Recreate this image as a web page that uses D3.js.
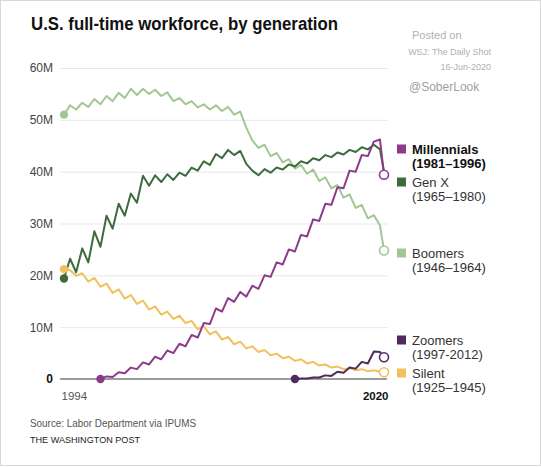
<!DOCTYPE html>
<html><head><meta charset="utf-8">
<script src="https://cdn.jsdelivr.net/npm/d3@7"></script>
<style>
body{margin:0;background:#fff;}
text{font-family:"Liberation Sans",Arial,sans-serif;}
</style>
</head><body>
<svg id="chart" width="541" height="467"></svg>
<script>
// ---- DATA (millions of workers, semi-annual readings) ----
const startYear = 1994;
const endYear = 2020.33;
const boomers = [51.0,52.8, 52.0,53.3, 52.5,54.0, 53.0,54.6, 53.6,55.2, 54.2,56.0, 54.8,56.0, 55.0,55.8, 54.6,55.3, 53.6,54.2, 53.0,53.6, 52.4,53.0, 52.0,52.8, 51.7,52.5, 51.0,51.6, 48.5,46.0, 44.6,45.2, 43.0,43.6, 41.8,42.4, 40.6,41.3, 39.6,40.4, 38.2,38.9, 36.8,37.4, 35.0,35.6, 33.0,33.6, 31.0,31.6, 29.6, 24.8];
const genX = [19.4,23.2, 20.6,25.2, 22.5,28.5, 25.5,31.5, 29.0,33.8, 31.5,35.8, 34.0,39.2, 37.3,39.3, 38.0,39.5, 38.4,39.8, 39.2,40.8, 40.2,42.0, 41.3,43.4, 42.6,44.2, 43.2,44.0, 41.5,40.2, 39.3,40.5, 39.8,40.8, 40.4,41.4, 41.0,42.0, 41.6,42.6, 42.2,43.2, 42.8,43.7, 43.3,44.2, 43.8,44.7, 44.3,45.2, 44.3, 40.0];
const millennialsStart = 1997;
const millennials = [0,0.5, 0.4,1.3, 1.1,2.2, 1.9,3.2, 2.8,4.3, 3.8,5.5, 5.0,6.8, 6.3,8.5, 8.0,10.8, 10.6,13.6, 13.0,15.6, 14.9,16.8, 15.9,18.0, 17.4,20.0, 19.7,22.5, 22.1,25.0, 24.6,27.8, 27.5,30.8, 30.5,33.8, 33.6,37.0, 36.8,40.2, 40.0,43.2, 43.0,45.8, 46.2, 39.4];
const silent = [21.2,21.0, 19.9,20.4, 18.8,19.5, 17.8,18.4, 16.6,17.3, 15.5,16.2, 14.5,15.1, 13.4,14.0, 12.4,13.0, 11.6,12.2, 10.8,11.2, 9.6,10.2, 8.6,9.2, 7.6,8.1, 6.7,7.2, 5.9,6.3, 5.2,5.6, 4.6,4.9, 4.0,4.3, 3.5,3.8, 3.0,3.3, 2.6,2.8, 2.2,2.4, 1.9,2.1, 1.7,1.9, 1.5,1.7, 1.4, 1.3];
const zoomersStart = 2013;
const zoomers = [0,0.1, 0.1,0.3, 0.3,0.7, 0.6,1.4, 1.2,2.2, 2.0,3.3, 3.0,5.3, 5.2, 4.2];
const yTicks = [0,10,20,30,40,50,60];
const xTickLabels = [1994, 2020];
const seriesNames = ["Boomers","Silent","Gen X","Zoomers","Millennials"];
const legendNames = ["Millennials","Gen X","Boomers","Zoomers","Silent"];
const legendYears = ["(1981\u20131996)","(1965\u20131980)","(1946\u20131964)","(1997-2012)","(1925\u20131945)"];
const colors = {"Millennials":"#8c3b8a","Gen X":"#3e6b3e","Boomers":"#a2c795","Zoomers":"#4f2a5a","Silent":"#f2c05c"};

// build time points: semi-annual readings, last value is the latest month
function toPoints(vals, start){
  return vals.map((v,i)=>({t: i===vals.length-1 ? endYear : start + i/2, v}));
}
const series = {
  "Boomers": toPoints(boomers, startYear),
  "Silent": toPoints(silent, startYear),
  "Gen X": toPoints(genX, startYear),
  "Zoomers": toPoints(zoomers, zoomersStart),
  "Millennials": toPoints(millennials, millennialsStart)
};

const svg = d3.select("#chart");
svg.append("rect").attr("x",0.5).attr("y",0.5).attr("width",540).attr("height",465)
  .attr("fill","#fff").attr("stroke","#d8d8d8");

const x = d3.scaleLinear().domain([startYear, endYear]).range([64, 384]);
const y = d3.scaleLinear().domain([0, 60]).range([379, 68]);

// gridlines
const grid = svg.append("g").attr("transform","translate(60,0)")
  .call(d3.axisRight(y).tickValues(yTicks.filter(d=>d>0)).tickSize(328).tickFormat(""));
grid.select(".domain").remove();
grid.selectAll("line").attr("stroke","#e7e7e7").attr("stroke-width",1);

// y labels
const ya = svg.append("g").attr("transform","translate(60,0)")
  .call(d3.axisLeft(y).tickValues(yTicks).tickSize(0).tickPadding(7)
    .tickFormat(d => d===0 ? "0" : d+"M"));
ya.select(".domain").remove();
ya.selectAll("text").attr("font-size",12).attr("fill","#444")
  .attr("font-family","Liberation Sans, Arial, sans-serif")
  .filter(d=>d===0).attr("font-weight","bold").attr("fill","#111");

// zero baseline
svg.append("line").attr("x1",60).attr("x2",387).attr("y1",y(0)).attr("y2",y(0))
  .attr("stroke","#9c9c9c").attr("stroke-width",2);

// x labels
const xa = svg.append("g").attr("transform",`translate(0,${y(0)})`)
  .call(d3.axisBottom(x).tickValues(xTickLabels).tickSize(0).tickFormat(d3.format("d")));
xa.select(".domain").remove();
xa.selectAll("text").attr("font-size",11.5).attr("y",21).attr("dy",0)
  .attr("font-family","Liberation Sans, Arial, sans-serif")
  .attr("fill", d => d===2020 ? "#111" : "#555")
  .attr("font-weight", d => d===2020 ? "bold" : "normal")
  .attr("text-anchor", d => d===2020 ? "end" : "start")
  .attr("dx", d => d===2020 ? 8 : -3);

// lines
const line = d3.line().x(d=>x(d.t)).y(d=>y(d.v)).curve(d3.curveLinear);
const gLines = svg.append("g");
seriesNames.forEach(name=>{
  gLines.append("path").datum(series[name]).attr("d", line)
    .attr("fill","none").attr("stroke", colors[name]).attr("stroke-width",2)
    .attr("stroke-linejoin","round");
});
// start dots
const gDots = svg.append("g");
seriesNames.forEach(name=>{
  const p = series[name][0];
  gDots.append("circle").attr("cx",x(p.t)).attr("cy",y(p.v)).attr("r",4.2)
    .attr("fill",colors[name]);
});
// end circles
["Boomers","Silent","Zoomers","Millennials"].forEach(name=>{
  const arr = series[name]; const p = arr[arr.length-1];
  gDots.append("circle").attr("cx",x(p.t)).attr("cy",y(p.v)).attr("r",4.5)
    .attr("fill","#fff").attr("stroke",colors[name]).attr("stroke-width",1.6);
});

// legend
const legendY = [149, 182, 253, 340, 373];
const lg = svg.append("g");
legendNames.forEach((name,i)=>{
  const cy = legendY[i];
  lg.append("rect").attr("x",397).attr("y",cy-4.5).attr("width",9).attr("height",9)
    .attr("fill",colors[name]);
  const bold = name==="Millennials";
  lg.append("text").attr("x",412).attr("y",cy+4.5).text(name)
    .attr("font-size",13).attr("fill", bold ? "#111" : "#333")
    .attr("font-weight", bold ? "bold" : "normal");
  lg.append("text").attr("x",412).attr("y",cy+19).text(legendYears[i])
    .attr("font-size",13).attr("fill", bold ? "#111" : "#333")
    .attr("font-weight", bold ? "bold" : "normal");
});

// title
svg.append("text").attr("x",31).attr("y",30).text("U.S. full-time workforce, by generation")
  .attr("font-size",18).attr("font-weight","bold").attr("fill","#111")
  .attr("textLength",307).attr("lengthAdjust","spacingAndGlyphs");

// watermark
svg.append("text").attr("x",412).attr("y",39).text("Posted on")
  .attr("font-size",11).attr("fill","#b0b0b0");
svg.append("text").attr("x",491).attr("y",55).text("WSJ: The Daily Shot")
  .attr("font-size",9).attr("fill","#b0b0b0").attr("text-anchor","end");
svg.append("text").attr("x",491).attr("y",70).text("16-Jun-2020")
  .attr("font-size",9).attr("fill","#b0b0b0").attr("text-anchor","end");
svg.append("text").attr("x",409).attr("y",91).text("@SoberLook")
  .attr("font-size",12).attr("fill","#a0a0a0");

// source
svg.append("text").attr("x",30).attr("y",427).text("Source: Labor Department via IPUMS")
  .attr("font-size",10.5).attr("fill","#555").attr("textLength",166).attr("lengthAdjust","spacingAndGlyphs");
svg.append("text").attr("x",30).attr("y",443).text("THE WASHINGTON POST")
  .attr("font-size",9.5).attr("fill","#222").attr("textLength",110).attr("lengthAdjust","spacingAndGlyphs");
</script>
</body></html>
